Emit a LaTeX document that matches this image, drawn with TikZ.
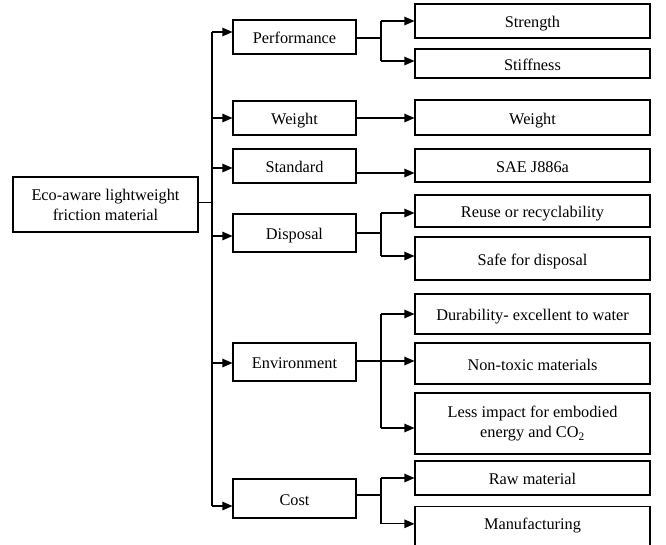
\documentclass[tikz,border=0pt]{standalone}
\usepackage{fontspec}
\setmainfont{Liberation Serif}
\usetikzlibrary{arrows.meta}
\begin{document}
\begin{tikzpicture}[x=1pt,y=-1pt,
  line/.style={line width=1.1pt},
  arr/.style={line width=1.1pt,-{Triangle[length=10pt,width=8.5pt]}},
  box/.style={draw,line width=1.1pt,rectangle,inner sep=0pt,align=center,
    font=\fontsize{16.3}{20}\selectfont},
  one/.style={text height=14pt,text depth=1pt},
  mid/.style={box,one,minimum width=123pt},
  rbox/.style={box,minimum width=235pt}]
\useasboundingbox (0,0) rectangle (666,544);
\clip (0,0) rectangle (666,544);
% root
\node[box,minimum width=185pt,minimum height=55pt] (root) at (105.5,204.5) {Eco-aware lightweight\\friction material};
% middle
\node[mid,minimum height=34pt] (perf) at (294.5,37) {Performance};
\node[mid,minimum height=34pt] (weight) at (294.5,118) {Weight};
\node[mid,minimum height=34pt] (standard) at (294.5,166) {Standard};
\node[mid,minimum height=38pt] (disposal) at (294.5,233) {Disposal};
\node[mid,minimum height=38pt] (env) at (294.5,362) {Environment};
\node[mid,minimum height=39pt] (cost) at (294.5,498.5) {Cost};
% right
\node[rbox,one,minimum height=34pt] (strength) at (532.5,21) {Strength};
\node[rbox,one,minimum height=29pt] (stiff) at (532.5,63.5) {Stiffness};
\node[rbox,one,minimum height=35pt] (weightR) at (532.5,117.5) {Weight};
\node[rbox,one,minimum height=33pt] (sae) at (532.5,165.5) {SAE J886a};
\node[rbox,one,minimum height=32pt] (reuse) at (532.5,211) {Reuse or recyclability};
\node[rbox,one,minimum height=43pt] (safe) at (532.5,258.5) {Safe for disposal};
\node[rbox,one,minimum height=40pt] (dur) at (532.5,314) {Durability- excellent to water};
\node[rbox,one,minimum height=41pt] (nontox) at (532.5,363.5) {Non-toxic materials};
\node[rbox,minimum height=61pt] (less) at (532.5,423.5) {Less impact for embodied\\energy and CO\textsubscript{2}};
\node[rbox,one,minimum height=34pt] (raw) at (532.5,478) {Raw material};
\node[rbox,text height=22.5pt,text depth=22pt,inner ysep=0pt,anchor=north] (manu) at (532.5,506) {Manufacturing};
% trunk
\coordinate (tr) at (212,204);
\coordinate (br) at (381,0);
\draw[line] ([yshift=2pt]root.east) -- ([yshift=2pt]root.east -| tr);
\draw[line] ([yshift=5pt]perf.west -| tr) -- ([yshift=-7.5pt]cost.west -| tr);
\foreach \n/\s in {perf/5pt,weight/0pt,standard/-2pt,disposal/-3pt,env/-1pt,cost/-7.5pt}
  \draw[arr] ([yshift=\s]\n.west -| tr) -- ([yshift=\s]\n.west);
% performance
\draw[line] ([yshift=-1pt]perf.east) -- ([yshift=-1pt]perf.east -| br);
\draw[line] (strength.west -| br) -- ([yshift=2.5pt]stiff.west -| br);
\draw[arr] (strength.west -| br) -- (strength.west);
\draw[arr] ([yshift=2.5pt]stiff.west -| br) -- ([yshift=2.5pt]stiff.west);
% weight, standard
\draw[arr] (weight.east) -- (weight.east -| weightR.west);
\draw[arr] ([yshift=-7pt]standard.east) -- ([yshift=-7pt]standard.east -| sae.west);
% disposal
\draw[line] (disposal.east) -- (disposal.east -| br);
\draw[line] ([yshift=-2pt]reuse.west -| br) -- ([yshift=2.5pt]safe.west -| br);
\draw[arr] ([yshift=-2pt]reuse.west -| br) -- ([yshift=-2pt]reuse.west);
\draw[arr] ([yshift=2.5pt]safe.west -| br) -- ([yshift=2.5pt]safe.west);
% environment
\draw[line] ([yshift=1pt]env.east) -- ([yshift=1pt]env.east -| br);
\draw[line] (dur.west -| br) -- ([yshift=-4.5pt]less.west -| br);
\draw[arr] (dur.west -| br) -- (dur.west);
\draw[arr] ([yshift=2.5pt]nontox.west -| br) -- ([yshift=2.5pt]nontox.west);
\draw[arr] ([yshift=-4.5pt]less.west -| br) -- ([yshift=-4.5pt]less.west);
% cost
\draw[line] ([yshift=3.5pt]cost.east) -- ([yshift=3.5pt]cost.east -| br);
\draw[line] (raw.west -| br) -- ([yshift=5pt]manu.west -| br);
\draw[arr] (raw.west -| br) -- (raw.west);
\draw[arr] ([yshift=5pt]manu.west -| br) -- ([yshift=5pt]manu.west);
\end{tikzpicture}
\end{document}
